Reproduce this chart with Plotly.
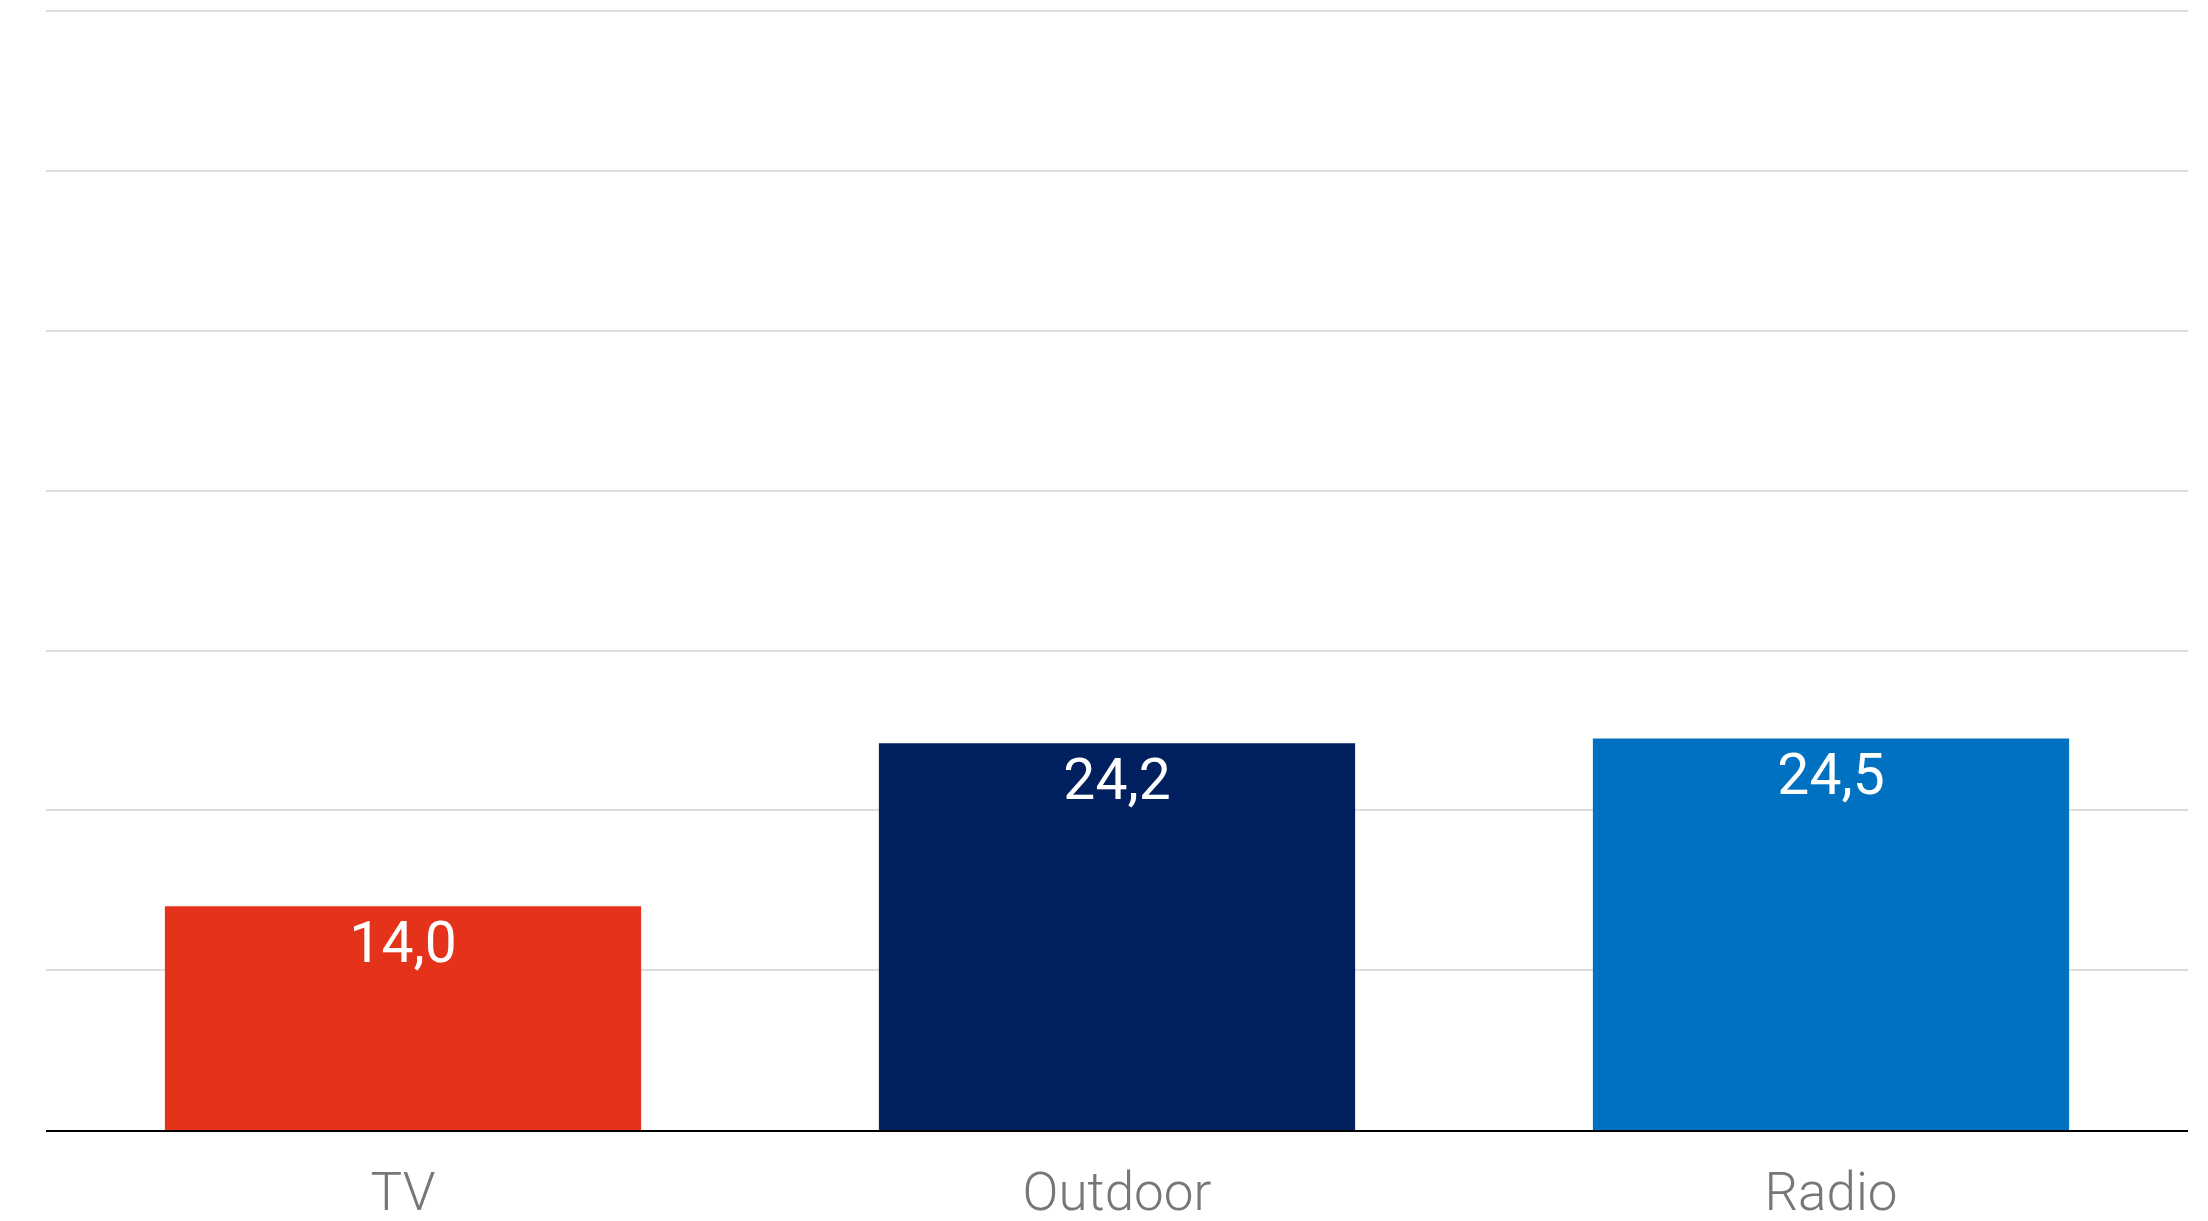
import plotly.graph_objects as go

categories = ["TV", "Outdoor", "Radio"]
values = [14.0, 24.2, 24.5]
colors = ["#E5321A", "#00205F", "#0070C0"]

fig = go.Figure(go.Bar(
    x=categories, y=values,
    marker=dict(color=colors, line=dict(width=0)),
    texttemplate="%{y:.1f}",
    textposition="inside",
    insidetextanchor="end",
    textangle=0,
    insidetextfont=dict(family="Roboto", size=57, color="white"),
    cliponaxis=False,
))

fig.update_layout(
    width=2208, height=1221,
    margin=dict(l=46, r=20, t=10, b=91, autoexpand=False),
    paper_bgcolor="white", plot_bgcolor="white",
    separators=", ",
    bargap=0.333,
    showlegend=False,
    xaxis=dict(
        showgrid=False, showline=True, linecolor="black", linewidth=2,
        ticks="", ticklabelstandoff=14, automargin=False,
        tickfont=dict(family="Roboto", size=53, color="#777777", weight=300),
    ),
    yaxis=dict(
        range=[0, 70.08], tickvals=[10, 20, 30, 40, 50, 60, 70],
        showticklabels=False, automargin=False,
        showgrid=True, gridcolor="#dddddd", gridwidth=2,
        zeroline=False, showline=False,
    ),
)

fig.write_html("out.html")
